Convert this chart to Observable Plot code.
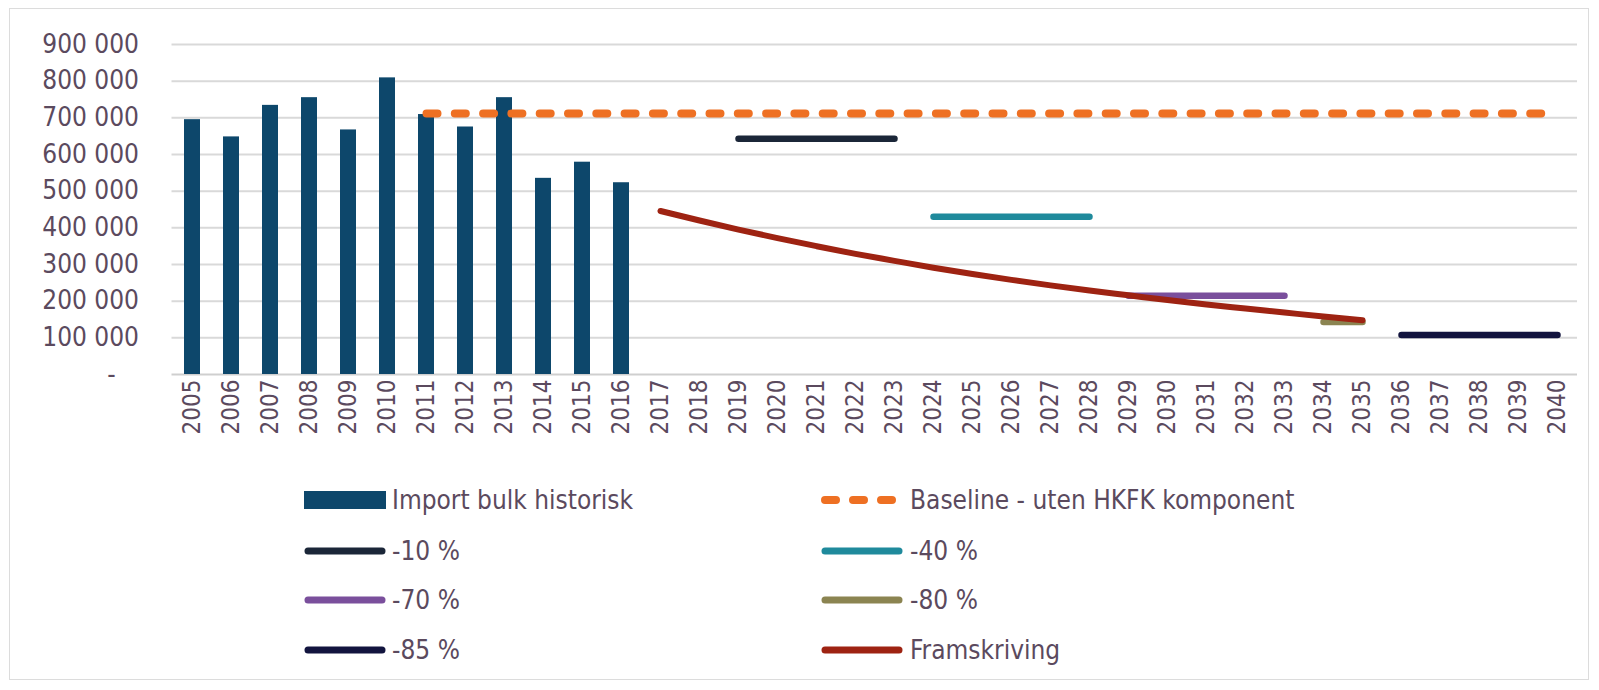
<!DOCTYPE html>
<html>
<head>
<meta charset="utf-8">
<script src="https://cdn.jsdelivr.net/npm/d3@7"></script>
<script src="https://cdn.jsdelivr.net/npm/@observablehq/plot@0.6"></script>
<style>
  html, body { margin: 0; padding: 0; background: #ffffff; }
  #page { position: relative; width: 1599px; height: 690px; overflow: hidden; font-family: "DejaVu Sans Condensed", "DejaVu Sans", sans-serif; font-stretch: condensed; }
  #frame { position: absolute; left: 9px; top: 8px; width: 1580px; height: 672px; border: 1.5px solid #dcdcdc; box-sizing: border-box; }
  #chart { position: absolute; left: 0; top: 0; }
  .leg { position: absolute; height: 32px; line-height: 32px; font-size: 26px; color: #5b4a5e; white-space: nowrap; }
  .sw { position: absolute; }
</style>
</head>
<body>
<div id="page">
  <div id="frame"></div>
  <div id="chart"></div>
  <div id="legend"></div>
</div>
<script>
// ---- data ----
const years = ["2005","2006","2007","2008","2009","2010","2011","2012","2013","2014","2015","2016",
  "2017","2018","2019","2020","2021","2022","2023","2024","2025","2026","2027","2028",
  "2029","2030","2031","2032","2033","2034","2035","2036","2037","2038","2039","2040"];
const yTicks = [0, 100000, 200000, 300000, 400000, 500000, 600000, 700000, 800000, 900000];

const histYears = ["2005","2006","2007","2008","2009","2010","2011","2012","2013","2014","2015","2016"];
const histValues = [695000, 648000, 734000, 755000, 667000, 809000, 709000, 675000, 755000, 535000, 579000, 523000];

const baselineYears = ["2011", "2040"];
const baselineValues = [712000, 712000];

const cut10Years = ["2019", "2023"];
const cut10Values = [643000, 643000];
const cut40Years = ["2024", "2028"];
const cut40Values = [430000, 430000];
const cut70Years = ["2029", "2033"];
const cut70Values = [215000, 215000];
const cut80Years = ["2034", "2035"];
const cut80Values = [143000, 143000];
const cut85Years = ["2036", "2040"];
const cut85Values = [108000, 108000];

const framYears = ["2017","2018","2019","2020","2021","2022","2023","2024","2025","2026",
  "2027","2028","2029","2030","2031","2032","2033","2034","2035"];
const framValues = [446000, 420000, 395000, 372000, 350000, 329000, 310000, 291000, 274000, 258000,
  243000, 229000, 216000, 203000, 191000, 180000, 169000, 158000, 148000];

const seriesNames = ["Import bulk historisk", "Baseline - uten HKFK komponent", "-10 %", "-40 %", "-70 %", "-80 %", "-85 %", "Framskriving"];
const seriesColors = ["#0d476b", "#ee7023", "#1b2638", "#1f8a9c", "#7a4f9c", "#8b8451", "#12143e", "#9e2312"];

// ---- helpers ----
const zip = (xs, vs) => xs.map((x, i) => ({year: x, value: vs[i]}));
const fmt = d => d === 0 ? "-\u2003" : d3.format(",")(d).replace(/,/g, " ");
const lineOpts = (color, w) => ({x: "year", y: "value", stroke: color, strokeWidth: w, strokeLinecap: "round", strokeLinejoin: "round"});

const chart = Plot.plot({
  width: 1599,
  height: 440,
  marginLeft: 171.5,
  marginRight: 22,
  marginTop: 44,
  marginBottom: 66,
  style: {fontFamily: "'DejaVu Sans Condensed', 'DejaVu Sans', sans-serif", fontStretch: "condensed", fontSize: "26px", color: "#5b4a5e", background: "transparent", overflow: "visible"},
  x: {type: "band", domain: years, paddingInner: 0.6, paddingOuter: 0.3, label: null, tickSize: 0, tickPadding: 5, tickRotate: -90},
  y: {domain: [0, 900000], label: null, ticks: yTicks, tickSize: 0, tickPadding: 33, tickFormat: fmt},
  marks: [
    Plot.ruleY(yTicks.filter(d => d > 0), {stroke: "#d9d9d9", strokeWidth: 2}),
    Plot.ruleY([0], {stroke: "#cfcfcf", strokeWidth: 2}),
    Plot.barY(zip(histYears, histValues), {x: "year", y: "value", fill: seriesColors[0]}),
    Plot.line(zip(baselineYears, baselineValues), {...lineOpts(seriesColors[1], 8), strokeDasharray: "11,17.3"}),
    Plot.line(zip(cut10Years, cut10Values), lineOpts(seriesColors[2], 6.5)),
    Plot.line(zip(cut40Years, cut40Values), lineOpts(seriesColors[3], 6.5)),
    Plot.line(zip(cut70Years, cut70Values), lineOpts(seriesColors[4], 6.5)),
    Plot.line(zip(cut80Years, cut80Values), lineOpts(seriesColors[5], 6.5)),
    Plot.line(zip(cut85Years, cut85Values), lineOpts(seriesColors[6], 6.5)),
    Plot.line(zip(framYears, framValues), {...lineOpts(seriesColors[7], 6), curve: "monotone-x"})
  ]
});
// x tick labels slightly smaller than y tick labels, as in the reference
d3.select(chart).selectAll('g[aria-label="x-axis tick label"] text, g[aria-label="x-axis"] text').style("font-size", "24px");
document.getElementById("chart").appendChild(chart);

// ---- legend ----
const legend = document.getElementById("legend");
const rowY = [500, 551, 600, 650];
const colSwatchX = [304, 821];
const colTextX = [392, 910];
seriesNames.forEach((name, i) => {
  const row = Math.floor(i / 2), col = i % 2;
  const cy = rowY[row];
  const sx = colSwatchX[col];
  const ns = "http://www.w3.org/2000/svg";
  const svg = document.createElementNS(ns, "svg");
  svg.setAttribute("width", 84);
  svg.setAttribute("height", 24);
  svg.setAttribute("class", "sw");
  svg.style.left = sx + "px";
  svg.style.top = (cy - 12) + "px";
  if (i === 0) {
    const r = document.createElementNS(ns, "rect");
    r.setAttribute("x", 0); r.setAttribute("y", 3); r.setAttribute("width", 82); r.setAttribute("height", 18);
    r.setAttribute("fill", seriesColors[i]);
    svg.appendChild(r);
  } else {
    const l = document.createElementNS(ns, "line");
    l.setAttribute("x1", 4); l.setAttribute("x2", 78); l.setAttribute("y1", 12); l.setAttribute("y2", 12);
    l.setAttribute("stroke", seriesColors[i]);
    l.setAttribute("stroke-width", i === 1 ? 8 : 7);
    l.setAttribute("stroke-linecap", "round");
    if (i === 1) l.setAttribute("stroke-dasharray", "11,17");
    svg.appendChild(l);
  }
  legend.appendChild(svg);
  const t = document.createElement("div");
  t.className = "leg";
  t.textContent = name;
  t.style.left = colTextX[col] + "px";
  t.style.top = (cy - 16) + "px";
  legend.appendChild(t);
});
</script>
</body>
</html>
